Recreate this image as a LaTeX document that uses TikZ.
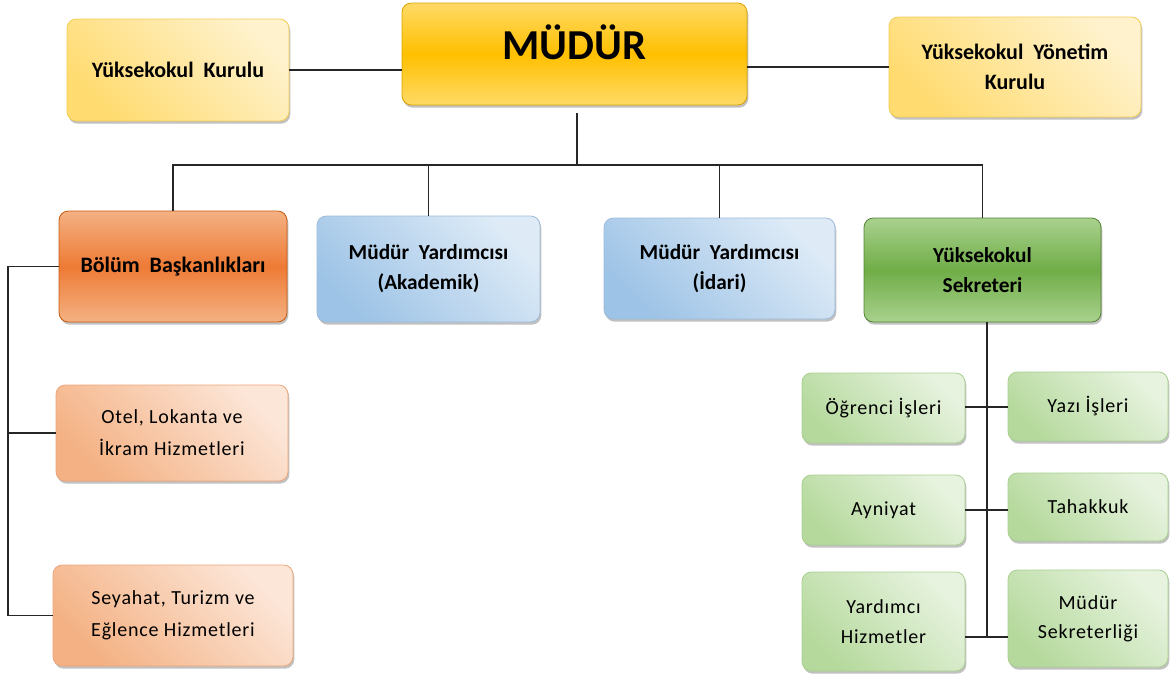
\documentclass[tikz,border=0pt]{standalone}
\usepackage{fontspec}
\setmainfont{Carlito}
\newfontfamily\spc[LetterSpace=4]{Carlito}
\usetikzlibrary{shadows}
\definecolor{gold}{HTML}{FFC000}
\definecolor{goldl}{HTML}{FFD966}
\definecolor{goldb}{HTML}{D9A300}
\definecolor{ylw}{HTML}{FFDB70}
\definecolor{ylwl}{HTML}{FFF2CC}
\definecolor{ylwb}{HTML}{F2CC55}
\definecolor{org}{HTML}{EE7B35}
\definecolor{orgl}{HTML}{F4B183}
\definecolor{orgb}{HTML}{C55A11}
\definecolor{blu}{HTML}{9DC3E6}
\definecolor{blul}{HTML}{DEEBF7}
\definecolor{blub}{HTML}{9DBBD8}
\definecolor{grn}{HTML}{70AD47}
\definecolor{grnl}{HTML}{A9D18E}
\definecolor{grnb}{HTML}{548235}
\definecolor{lgrn}{HTML}{B5D99C}
\definecolor{lgrnl}{HTML}{E7F3DF}
\definecolor{lgrnb}{HTML}{A9CF90}
\definecolor{lorg}{HTML}{F4B183}
\definecolor{lorgl}{HTML}{FCE6D8}
\definecolor{lorgb}{HTML}{EBA57A}
\tikzset{
  base/.style={rounded corners=7pt, inner sep=0pt, align=center, line width=0.6pt,
    drop shadow={shadow xshift=1pt, shadow yshift=-2pt, opacity=0.35, fill=black!70}},
  mudurbox/.style={base, draw=goldb, top color=goldl, bottom color=goldl, middle color=gold,
    font=\bfseries\fontsize{32}{36}\selectfont},
  kurulbox/.style={base, draw=ylwb, left color=ylw, right color=ylwl, shading angle=135,
    font=\bfseries\fontsize{16.5}{22.5}\selectfont},
  bolumbox/.style={base, draw=orgb, top color=orgl, bottom color=orgl, middle color=org,
    font=\bfseries\fontsize{16.5}{22.5}\selectfont},
  yrdbox/.style={base, draw=blub, left color=blu, right color=blul, shading angle=135,
    font=\bfseries\fontsize{16}{22.5}\selectfont},
  sekbox/.style={base, draw=grnb, top color=grnl, bottom color=grnl, middle color=grn,
    font=\bfseries\fontsize{16}{22.5}\selectfont},
  subgrn/.style={base, draw=lgrnb, left color=lgrn, right color=lgrnl, shading angle=135,
    font=\spc\fontsize{15}{22}\selectfont},
  suborg/.style={base, draw=lorgb, left color=lorg, right color=lorgl, shading angle=135,
    font=\spc\fontsize{15}{24}\selectfont},
  conn/.style={draw=black!85, line width=0.9pt}
}
\newcommand{\obox}[7]{\node[#6, minimum width={(#4-#2)*0.75pt}, minimum height={(#5-#3)*0.75pt}] (#1) at ({(#2+#4)/2},{(#3+#5)/2}) {#7};}
\begin{document}
\begin{tikzpicture}[x=0.75pt,y=-0.75pt]
\useasboundingbox (0,0) rectangle (1170,678);
% top row
\obox{mudur}{402}{3}{747}{105}{mudurbox}{\raisebox{-4pt}[0pt][0pt]{MÜDÜR}}
\obox{ykur}{67}{19}{289}{121}{kurulbox}{Yüksekokul\ \ Kurulu}
\obox{yyon}{889}{17}{1141}{117}{kurulbox}{Yüksekokul\ \ Yönetim\\Kurulu}
% second row
\obox{bolum}{59}{211}{287}{322}{bolumbox}{Bölüm\ \ Başkanlıkları}
\obox{akad}{317}{216}{540}{322}{yrdbox}{Müdür\ \ Yardımcısı\\(Akademik)}
\obox{idari}{604}{218}{835}{319}{yrdbox}{Müdür\ \ Yardımcısı\\(İdari)}
\obox{sek}{864}{218}{1101}{322}{sekbox}{Yüksekokul\\Sekreteri}
% left column
\obox{otel}{56}{385}{288}{481}{suborg}{Otel, Lokanta ve\\İkram Hizmetleri}
\obox{seya}{53}{565}{293}{666}{suborg}{Seyahat, Turizm ve\\Eğlence Hizmetleri}
% right grid
\obox{ogr}{802}{373}{965}{443}{subgrn}{Öğrenci İşleri}
\obox{yazi}{1008}{372}{1168}{441}{subgrn}{Yazı İşleri}
\obox{ayni}{802}{475}{965}{545}{subgrn}{Ayniyat}
\obox{taha}{1008}{473}{1168}{541}{subgrn}{Tahakkuk}
\obox{yard}{802}{572}{965}{671}{subgrn}{Yardımcı\\Hizmetler}
\obox{msek}{1008}{570}{1168}{667}{subgrn}{Müdür\\Sekreterliği}
% connectors
\coordinate (bus) at (577,165);
\coordinate (lft) at (8,265);
\coordinate (r1) at (987,407);
\coordinate (r2) at (987,510);
\coordinate (r3) at (987,637);
\draw[conn] (ykur.east) -- (mudur.west |- ykur.east);
\draw[conn] (yyon.west) -- (mudur.east |- yyon.west);
\draw[conn] ([yshift=-6pt]mudur.south -| bus) -- (bus);
\draw[conn] (bolum.north) -- (bolum.north |- bus) -- (sek.north |- bus) -- (sek.north);
\draw[conn] (akad.north) -- (akad.north |- bus);
\draw[conn] (idari.north) -- (idari.north |- bus);
\draw[conn] (bolum.west) -- (bolum.west -| lft) -- (lft |- seya.west) -- (seya.west);
\draw[conn] (otel.west) -- (otel.west -| lft);
\draw[conn] (sek.south -| r1) -- (r3);
\draw[conn] (ogr.east |- r1) -- (yazi.west |- r1);
\draw[conn] (ayni.east |- r2) -- (taha.west |- r2);
\draw[conn] (yard.east |- r3) -- (msek.west |- r3);
\end{tikzpicture}
\end{document}
